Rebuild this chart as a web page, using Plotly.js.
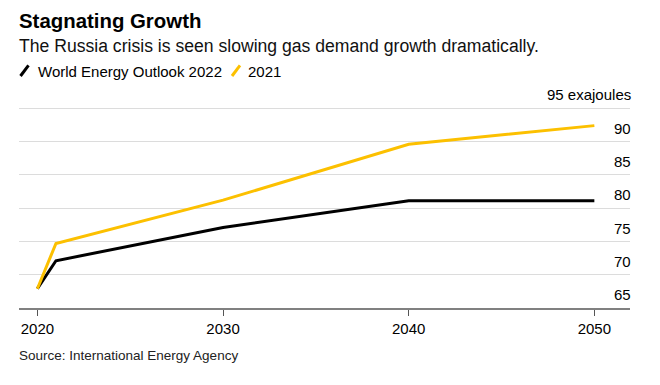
<!DOCTYPE html>
<html>
<head>
<meta charset="utf-8">
<script src="https://cdn.plot.ly/plotly-3.0.1.min.js"></script>
<style>
  html, body { margin: 0; padding: 0; background: #fff; }
  #chart { width: 660px; height: 385px; }
</style>
</head>
<body>
<div id="chart"></div>
<script>
// ---- Data ----
const years = [2020, 2021, 2030, 2040, 2050];
const weo2022 = [67.9, 72.1, 77.1, 81.1, 81.1];
const weo2021 = [67.9, 74.7, 81.2, 89.6, 92.4];
const seriesNames = ["World Energy Outlook 2022", "2021"];
const xTickVals = [2020, 2030, 2040, 2050];
const yTickVals = [65, 70, 75, 80, 85, 90, 95];
const yTickText = ["65", "70", "75", "80", "85", "90", "95 exajoules"];

const titleText = "Stagnating Growth";
const subtitleText = "The Russia crisis is seen slowing gas demand growth dramatically.";
const sourceText = "Source: International Energy Agency";

// ---- Layout geometry (pixels) ----
const FW = 660, FH = 385;
const M = { l: 19, r: 30, t: 95, b: 77.3 };
const PW = FW - M.l - M.r, PH = FH - M.t - M.b;
const px = x => (x - M.l) / PW;
const py = y => (FH - M.b - y) / PH;

const FONT = "Liberation Sans, Arial, Helvetica, sans-serif";
const BLACK = "#000000";
const YELLOW = "#fcc000";

const traces = [
  { x: years, y: weo2022, name: seriesNames[0], type: "scatter", mode: "lines",
    line: { color: BLACK, width: 3 }, hoverinfo: "x+y" },
  { x: years, y: weo2021, name: seriesNames[1], type: "scatter", mode: "lines",
    line: { color: YELLOW, width: 3 }, hoverinfo: "x+y" }
];

function ann(text, x, y, size, opts) {
  return Object.assign({
    text: text, xref: "paper", yref: "paper", x: px(x), y: py(y),
    xanchor: "left", yanchor: "middle", showarrow: false,
    font: { family: FONT, size: size, color: "#000" }
  }, opts || {});
}

const annotations = [
  ann("<b>" + titleText + "</b>", 17, 21.5, 20.4),
  ann(subtitleText, 17, 46.5, 17.6, { font: { family: FONT, size: 17.6, color: "#111" } }),
  ann(seriesNames[0], 36, 71.5, 15),
  ann(seriesNames[1], 246, 71.5, 15),
  ann(sourceText, 17, 355.5, 13.5, { font: { family: FONT, size: 13.5, color: "#222" } })
];

// y-axis tick labels placed above their gridlines, right-aligned at the plot edge
yTickVals.forEach((v, i) => {
  annotations.push({
    text: yTickText[i], xref: "paper", yref: "y", x: px(633), y: v,
    xanchor: "right", yanchor: "middle", yshift: 13.4, showarrow: false,
    font: { family: FONT, size: 15, color: "#000" }
  });
});

const shapes = [
  { type: "line", xref: "paper", yref: "paper",
    x0: px(20.5), y0: py(76), x1: px(28.5), y1: py(65.5),
    line: { color: BLACK, width: 3 } },
  { type: "line", xref: "paper", yref: "paper",
    x0: px(232), y0: py(76), x1: px(240), y1: py(65.5),
    line: { color: YELLOW, width: 3 } }
];

const layout = {
  width: FW, height: FH,
  margin: { l: M.l, r: M.r, t: M.t, b: M.b, pad: 0 },
  paper_bgcolor: "#fff", plot_bgcolor: "#fff",
  showlegend: false,
  font: { family: FONT, size: 15, color: "#000" },
  xaxis: {
    range: [2019.01, 2051.92],
    tickmode: "array", tickvals: xTickVals, ticktext: xTickVals.map(String),
    showgrid: false, zeroline: false,
    showline: true, linecolor: "#808080", linewidth: 2,
    ticks: "outside", ticklen: 6, tickwidth: 1, tickcolor: "#555",
    tickfont: { family: FONT, size: 15, color: "#000" },
    fixedrange: true
  },
  yaxis: {
    range: [65, 97],
    side: "right",
    tickmode: "array", tickvals: yTickVals,
    showticklabels: false,
    showgrid: true, gridcolor: "#dcdcdc", gridwidth: 1,
    zeroline: false, showline: false, ticks: "",
    fixedrange: true
  },
  annotations: annotations,
  shapes: shapes
};

Plotly.newPlot("chart", traces, layout, { displayModeBar: false, staticPlot: true });
</script>
</body>
</html>
